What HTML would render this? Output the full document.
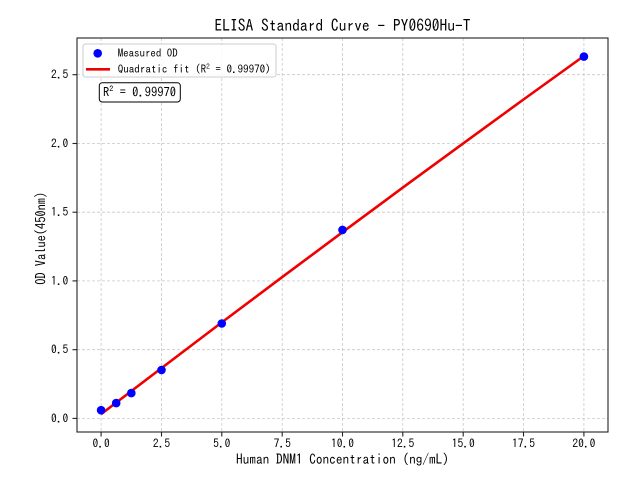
<!DOCTYPE html>
<html>
<head>
<meta charset="utf-8">
<style>
  html,body{margin:0;padding:0;background:#fff;}
  svg{display:block;}
  text{font-family:"IPAGothic","WenQuanYi Zen Hei","Noto Sans CJK SC","Liberation Mono",monospace;fill:#000;}
</style>
</head>
<body>
<svg width="640" height="480" viewBox="0 0 640 480" xmlns="http://www.w3.org/2000/svg">
  <rect x="0" y="0" width="640" height="480" fill="#fff"/>
  <rect x="77" y="38" width="531" height="394" fill="#fff"/>

  <!-- grid -->
  <g stroke="#c8c8c8" stroke-width="0.8" stroke-dasharray="3,2" fill="none">
    <line x1="101.1" y1="38" x2="101.1" y2="432"/>
    <line x1="161.5" y1="38" x2="161.5" y2="432"/>
    <line x1="221.8" y1="38" x2="221.8" y2="432"/>
    <line x1="282.2" y1="38" x2="282.2" y2="432"/>
    <line x1="342.5" y1="38" x2="342.5" y2="432"/>
    <line x1="402.8" y1="38" x2="402.8" y2="432"/>
    <line x1="463.2" y1="38" x2="463.2" y2="432"/>
    <line x1="523.5" y1="38" x2="523.5" y2="432"/>
    <line x1="583.9" y1="38" x2="583.9" y2="432"/>
    <line x1="77" y1="418.4" x2="608" y2="418.4"/>
    <line x1="77" y1="349.7" x2="608" y2="349.7"/>
    <line x1="77" y1="280.9" x2="608" y2="280.9"/>
    <line x1="77" y1="212.2" x2="608" y2="212.2"/>
    <line x1="77" y1="143.5" x2="608" y2="143.5"/>
    <line x1="77" y1="74.7" x2="608" y2="74.7"/>
  </g>

  <!-- fit line -->
  <polyline fill="none" stroke="#f00000" stroke-width="2.6" stroke-linejoin="round"
    points="101.1,414.1 161.5,368.1 221.8,322.4 282.2,277.1 342.5,232.2 402.8,187.6 463.2,143.4 523.5,99.5 583.9,56.0"/>

  <!-- points -->
  <g fill="#0000ff">
    <circle cx="101.1" cy="410.2" r="4.3"/>
    <circle cx="116.2" cy="403.1" r="4.3"/>
    <circle cx="131.3" cy="393.1" r="4.3"/>
    <circle cx="161.5" cy="370.0" r="4.3"/>
    <circle cx="221.8" cy="323.5" r="4.3"/>
    <circle cx="342.5" cy="229.9" r="4.3"/>
    <circle cx="583.9" cy="56.6" r="4.3"/>
  </g>

  <!-- spines -->
  <rect x="77" y="38" width="531" height="394" fill="none" stroke="#222" stroke-width="1.1"/>

  <!-- ticks -->
  <g stroke="#222" stroke-width="1.1">
    <line x1="101.1" y1="432" x2="101.1" y2="436.5"/>
    <line x1="161.5" y1="432" x2="161.5" y2="436.5"/>
    <line x1="221.8" y1="432" x2="221.8" y2="436.5"/>
    <line x1="282.2" y1="432" x2="282.2" y2="436.5"/>
    <line x1="342.5" y1="432" x2="342.5" y2="436.5"/>
    <line x1="402.8" y1="432" x2="402.8" y2="436.5"/>
    <line x1="463.2" y1="432" x2="463.2" y2="436.5"/>
    <line x1="523.5" y1="432" x2="523.5" y2="436.5"/>
    <line x1="583.9" y1="432" x2="583.9" y2="436.5"/>
    <line x1="72.5" y1="418.4" x2="77" y2="418.4"/>
    <line x1="72.5" y1="349.7" x2="77" y2="349.7"/>
    <line x1="72.5" y1="280.9" x2="77" y2="280.9"/>
    <line x1="72.5" y1="212.2" x2="77" y2="212.2"/>
    <line x1="72.5" y1="143.5" x2="77" y2="143.5"/>
    <line x1="72.5" y1="74.7" x2="77" y2="74.7"/>
  </g>

  <!-- x tick labels -->
  <g font-size="11.5" text-anchor="middle">
    <text x="101.1" y="447.3">0.0</text>
    <text x="161.5" y="447.3">2.5</text>
    <text x="221.8" y="447.3">5.0</text>
    <text x="282.2" y="447.3">7.5</text>
    <text x="342.5" y="447.3">10.0</text>
    <text x="402.8" y="447.3">12.5</text>
    <text x="463.2" y="447.3">15.0</text>
    <text x="523.5" y="447.3">17.5</text>
    <text x="583.9" y="447.3">20.0</text>
  </g>

  <!-- y tick labels -->
  <g font-size="11.5" text-anchor="end">
    <text x="68.3" y="422.4">0.0</text>
    <text x="68.3" y="353.7">0.5</text>
    <text x="68.3" y="284.9">1.0</text>
    <text x="68.3" y="216.2">1.5</text>
    <text x="68.3" y="147.5">2.0</text>
    <text x="68.3" y="78.7">2.5</text>
  </g>

  <!-- title -->
  <text x="342.5" y="31.5" font-size="16.5" text-anchor="middle" textLength="256" lengthAdjust="spacingAndGlyphs">ELISA Standard Curve - PY0690Hu-T</text>

  <!-- axis labels -->
  <text x="342.5" y="464" font-size="13.3" text-anchor="middle" textLength="213" lengthAdjust="spacingAndGlyphs">Human DNM1 Concentration (ng/mL)</text>
  <text transform="translate(45.5,238.3) rotate(-90)" x="0" y="0" font-size="13.3" text-anchor="middle" textLength="93" lengthAdjust="spacingAndGlyphs">OD Value(450nm)</text>

  <!-- legend -->
  <rect x="83" y="44" width="193" height="33" rx="2.5" ry="2.5" fill="#fff" fill-opacity="0.85" stroke="#cccccc" stroke-width="1"/>
  <circle cx="97.7" cy="53.3" r="4.3" fill="#0000ff"/>
  <line x1="86" y1="69.3" x2="110" y2="69.3" stroke="#f00000" stroke-width="2.6"/>
  <text x="117.7" y="57.2" font-size="11.2" textLength="60" lengthAdjust="spacingAndGlyphs">Measured OD</text>
  <text x="117.7" y="73.2" font-size="11.2" textLength="153" lengthAdjust="spacingAndGlyphs">Quadratic fit (R<tspan font-size="7.5" dy="-4">2</tspan><tspan dy="4"> = 0.99970)</tspan></text>

  <!-- R2 box -->
  <rect x="99.3" y="82.7" width="81" height="19.3" rx="3" ry="3" fill="#fff" stroke="#000" stroke-width="1"/>
  <text x="103" y="96.5" font-size="13" textLength="73" lengthAdjust="spacingAndGlyphs">R<tspan font-size="8.5" dy="-5">2</tspan><tspan dy="5"> = 0.99970</tspan></text>
</svg>
</body>
</html>
